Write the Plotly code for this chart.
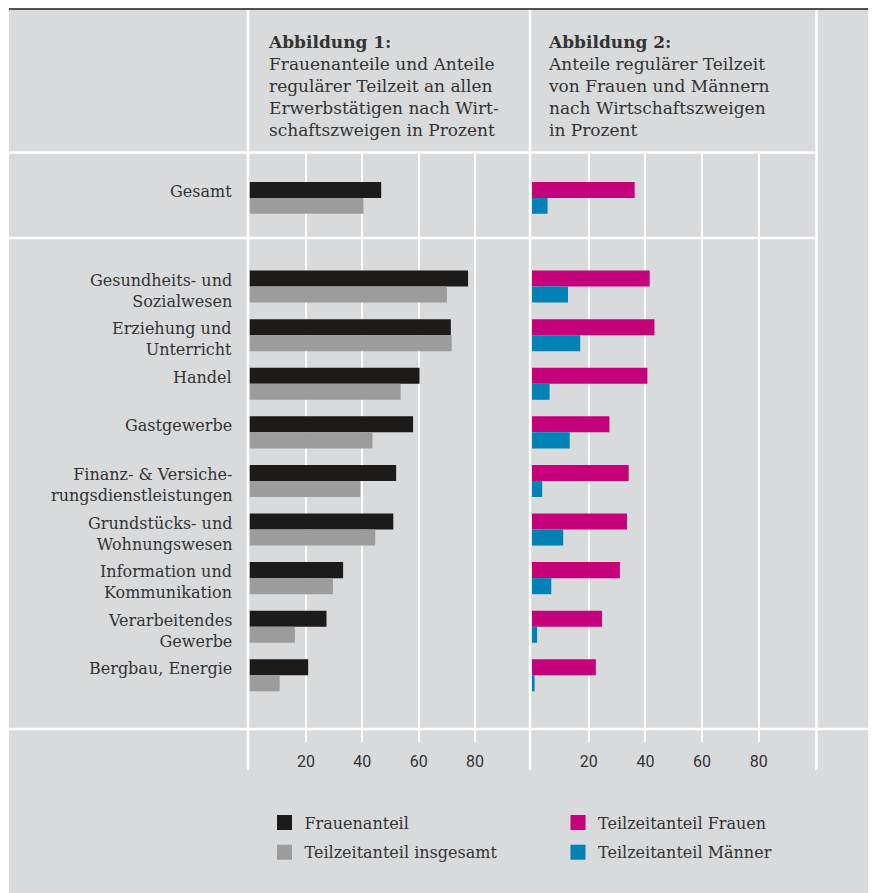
import plotly.graph_objects as go

W, H = 876, 893
OFF = 8  # page offset of the figure (body margin)


def px(x):
    return (x - OFF) / W


def py(y):
    return 1 - (y - OFF) / H


# ---------------- data ----------------
categories = [
    "Gesundheits- und<br>Sozialwesen",
    "Erziehung und<br>Unterricht",
    "Handel",
    "Gastgewerbe",
    "Finanz- & Versiche-<br>rungsdienstleistungen",
    "Grundstücks- und<br>Wohnungswesen",
    "Information und<br>Kommunikation",
    "Verarbeitendes<br>Gewerbe",
    "Bergbau, Energie",
]
total_label = ["Gesamt"]

frauenanteil = [77.5, 71.4, 60.3, 58.0, 52.0, 51.0, 33.2, 27.3, 20.8]
teilzeit_gesamt = [70.0, 71.7, 53.6, 43.6, 39.3, 44.6, 29.6, 16.1, 10.7]
teilzeit_frauen = [41.5, 43.2, 40.7, 27.3, 34.1, 33.5, 31.0, 24.7, 22.5]
teilzeit_maenner = [12.7, 17.0, 6.2, 13.3, 3.6, 11.0, 6.8, 1.8, 0.9]

total_frauenanteil = [46.7]
total_teilzeit_gesamt = [40.4]
total_teilzeit_frauen = [36.2]
total_teilzeit_maenner = [5.5]

tick_values = [20, 40, 60, 80]
tick_labels = ["20", "40", "60", "80"]

series_names = ["Frauenanteil", "Teilzeitanteil insgesamt",
                "Teilzeitanteil Frauen", "Teilzeitanteil Männer"]

title_1 = ("<b>Abbildung 1:</b><br>Frauenanteile und Anteile<br>"
           "regulärer Teilzeit an allen<br>Erwerbstätigen nach Wirt-<br>"
           "schaftszweigen in Prozent")
title_2 = ("<b>Abbildung 2:</b><br>Anteile regulärer Teilzeit<br>"
           "von Frauen und Männern<br>nach Wirtschaftszweigen<br>in Prozent")

# ---------------- style ----------------
C_BLACK = "#1d1b1a"
C_GREY = "#9c9c9c"
C_MAGENTA = "#c4007a"
C_BLUE = "#0082b7"
BG = "#d9dadb"
TXT = "#333333"
SERIF = "DejaVu Serif"
SANS = "Roboto"
BAR_W = 0.33

fig = go.Figure()


def add_bars(vals, cats, color, xa, ya, offset):
    fig.add_trace(go.Bar(
        x=vals, y=cats, orientation="h", xaxis=xa, yaxis=ya,
        width=BAR_W, offset=offset,
        marker=dict(color=color, line=dict(width=0)),
        showlegend=False, hoverinfo="skip"))


# left panel
add_bars(frauenanteil, categories, C_BLACK, "x", "y", -BAR_W)
add_bars(teilzeit_gesamt, categories, C_GREY, "x", "y", 0)
add_bars(total_frauenanteil, total_label, C_BLACK, "x", "y2", -BAR_W)
add_bars(total_teilzeit_gesamt, total_label, C_GREY, "x", "y2", 0)
# right panel
add_bars(teilzeit_frauen, categories, C_MAGENTA, "x2", "y", -BAR_W)
add_bars(teilzeit_maenner, categories, C_BLUE, "x2", "y", 0)
add_bars(total_teilzeit_frauen, total_label, C_MAGENTA, "x2", "y2", -BAR_W)
add_bars(total_teilzeit_maenner, total_label, C_BLUE, "x2", "y2", 0)

# legend proxies
legend_spec = [
    (series_names[0], C_BLACK, "legend", "a"),
    (series_names[1], C_GREY, "legend", "b"),
    (series_names[2], C_MAGENTA, "legend2", "c"),
    (series_names[3], C_BLUE, "legend2", "d"),
]
for name, color, lg, grp in legend_spec:
    fig.add_trace(go.Scatter(
        x=[None], y=[None], mode="markers", name=name,
        marker=dict(symbol="square", size=15, color=color, line=dict(width=0)),
        legend=lg, legendgroup=grp, xaxis="x", yaxis="y", hoverinfo="skip"))

xaxis_common = dict(
    range=[0, 100], tickvals=tick_values, ticktext=tick_labels,
    showgrid=True, gridcolor="white", gridwidth=2,
    ticks="outside", ticklen=12, tickwidth=2, tickcolor="white",
    zeroline=False, showline=False, fixedrange=True,
    tickfont=dict(family=SANS, size=16, color=TXT), ticklabelstandoff=6,
)
yaxis_common = dict(
    type="category", showticklabels=False, showgrid=False, zeroline=False,
    ticks="", showline=False, fixedrange=True,
)

n = len(categories)

annotations = []
for i, c in enumerate(categories):
    annotations.append(dict(
        xref="paper", x=px(233.5), xanchor="right", yref="y", y=i,
        yanchor="top", yshift=18, text=c, align="right", showarrow=False,
        font=dict(family=SERIF, size=16, color=TXT)))
annotations.append(dict(
    xref="paper", x=px(233.5), xanchor="right", yref="y2", y=0,
    yanchor="top", yshift=18, text=total_label[0], align="right",
    showarrow=False, font=dict(family=SERIF, size=16, color=TXT)))
for xpos, txt in [(266, title_1), (546, title_2)]:
    annotations.append(dict(
        xref="paper", yref="paper", x=px(xpos), y=py(29.5),
        xanchor="left", yanchor="top", text=txt, align="left",
        showarrow=False, font=dict(family=SERIF, size=17, color=TXT)))


def hline(y, x0, x1, color="white", w=2.5):
    return dict(type="line", xref="paper", yref="paper", x0=px(x0), x1=px(x1),
                y0=py(y), y1=py(y), line=dict(color=color, width=w), layer="below")


def vline(x, y0, y1, color="white", w=2.5):
    return dict(type="line", xref="paper", yref="paper", x0=px(x), x1=px(x),
                y0=py(y0), y1=py(y1), line=dict(color=color, width=w), layer="below")


shapes = [
    dict(type="rect", xref="paper", yref="paper", x0=px(9), x1=px(872),
         y0=py(901), y1=py(9.5), fillcolor=BG, line=dict(width=0), layer="below"),
    hline(152.5, 9, 818),
    hline(238, 9, 818),
    hline(729, 9, 872),
    vline(248, 9.5, 770),
    vline(530, 9.5, 770),
    vline(816.5, 9.5, 770),
    hline(9, 9, 872, color="#1a1a1a", w=1.5),
]

legend_common = dict(
    xanchor="left", yanchor="top", bgcolor="rgba(0,0,0,0)",
    font=dict(family=SERIF, size=16, color=TXT), tracegroupgap=6,
    traceorder="grouped", itemclick=False, itemdoubleclick=False,
    orientation="v",
)

fig.update_layout(
    width=W, height=H, margin=dict(l=0, r=0, t=0, b=0),
    paper_bgcolor="white", plot_bgcolor="rgba(0,0,0,0)",
    barmode="overlay",
    font=dict(family=SERIF, color=TXT),
    xaxis=dict(domain=[px(249.5), px(531.5)], anchor="y", **xaxis_common),
    xaxis2=dict(domain=[px(532), px(815.5)], anchor="y", **xaxis_common),
    yaxis=dict(domain=[py(729), py(238)], anchor="x", categoryorder="array",
               categoryarray=categories, range=[n - 1 + 1.105, -1.0], **yaxis_common),
    yaxis2=dict(domain=[py(238), py(152.5)], anchor="x", categoryorder="array",
                categoryarray=total_label, range=[0.83, -0.94], **yaxis_common),
    legend=dict(x=px(264.5), y=py(805.5), **legend_common),
    legend2=dict(x=px(558), y=py(805.5), **legend_common),
    annotations=annotations,
    shapes=shapes,
    showlegend=True,
)

fig.write_html("out.html")
